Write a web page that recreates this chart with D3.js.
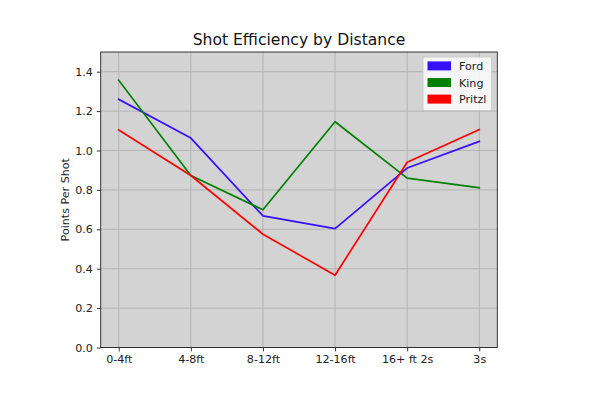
<!DOCTYPE html>
<html>
<head>
<meta charset="utf-8">
<script src="https://cdn.jsdelivr.net/npm/d3@7"></script>
<style>
	body { margin: 0; background: #fff; }
	svg { font-family: "DejaVu Sans", sans-serif; }
</style>
</head>
<body>
<svg id="chart" width="602" height="396"></svg>
<script>
const distances = ['0-4ft', '4-8ft', '8-12ft', '12-16ft', '16+ ft 2s', '3s'];
const ford = [1.26, 1.063, 0.668, 0.603, 0.911, 1.046];
const king = [1.357, 0.873, 0.699, 1.146, 0.86, 0.811];
const pritzl = [1.104, 0.873, 0.575, 0.367, 0.94, 1.106];
const yTicks = [0, 0.2, 0.4, 0.6, 0.8, 1.0, 1.2, 1.4];

const series = [
	{ name: 'Ford', color: '#3510ff', values: ford },
	{ name: 'King', color: '#008000', values: king },
	{ name: 'Pritzl', color: '#ff0000', values: pritzl },
];

const plot = { left: 100.7, right: 497.3, top: 52, bottom: 347.5 };
const svg = d3.select('#chart');

const x = d3.scaleLinear().domain([-0.25, distances.length - 0.75]).range([plot.left, plot.right]);
const y = d3.scaleLinear().domain([0, 1.5]).range([plot.bottom, plot.top]);

svg.append('rect')
	.attr('x', plot.left).attr('y', plot.top)
	.attr('width', plot.right - plot.left).attr('height', plot.bottom - plot.top)
	.attr('fill', '#d3d3d3');

// grid
const grid = svg.append('g').attr('stroke', '#b0b0b0').attr('stroke-width', 0.9);
grid.selectAll('.gx').data(distances).enter().append('line')
	.attr('x1', (d, i) => x(i)).attr('x2', (d, i) => x(i))
	.attr('y1', plot.top).attr('y2', plot.bottom);
grid.selectAll('.gy').data(yTicks).enter().append('line')
	.attr('x1', plot.left).attr('x2', plot.right)
	.attr('y1', d => y(d)).attr('y2', d => y(d));

// lines
const line = d3.line().x((d, i) => x(i)).y(d => y(d));
svg.selectAll('.series').data(series).enter().append('path')
	.attr('fill', 'none')
	.attr('stroke', d => d.color)
	.attr('stroke-width', 1.7)
	.attr('stroke-linejoin', 'round')
	.attr('stroke-linecap', 'square')
	.attr('d', d => line(d.values));

// axes
const xAxis = d3.axisBottom(x)
	.tickValues(d3.range(distances.length))
	.tickFormat(i => distances[i])
	.tickSize(3.9).tickPadding(3.9);
const yAxis = d3.axisLeft(y)
	.tickValues(yTicks)
	.tickFormat(d3.format('.1f'))
	.tickSize(3.9).tickPadding(3.9);

svg.append('g').attr('transform', `translate(0,${plot.bottom})`).call(xAxis)
	.call(g => g.select('.domain').remove());
svg.append('g').attr('transform', `translate(${plot.left},0)`).call(yAxis)
	.call(g => g.select('.domain').remove());
svg.selectAll('.tick text').attr('font-size', 11.1).attr('fill', '#222').attr('font-family', '"DejaVu Sans", sans-serif');
svg.selectAll('.tick line').attr('stroke', '#222').attr('stroke-width', 0.9);

svg.append('rect')
	.attr('x', plot.left).attr('y', plot.top)
	.attr('width', plot.right - plot.left).attr('height', plot.bottom - plot.top)
	.attr('fill', 'none').attr('stroke', '#222').attr('stroke-width', 0.9);

// labels
svg.append('text')
	.attr('x', (plot.left + plot.right) / 2).attr('y', 45)
	.attr('text-anchor', 'middle').attr('font-size', 15.6).attr('fill', '#111')
	.text('Shot Efficiency by Distance');

svg.append('text')
	.attr('transform', `translate(69,${(plot.top + plot.bottom) / 2}) rotate(-90)`)
	.attr('text-anchor', 'middle').attr('font-size', 11.1).attr('fill', '#222')
	.text('Points Per Shot');

// legend
const legend = svg.append('g');
legend.append('rect')
	.attr('x', 423).attr('y', 57)
	.attr('width', 68.5).attr('height', 53.5).attr('rx', 2)
	.attr('fill', 'rgba(255,255,255,0.8)').attr('stroke', '#cccccc').attr('stroke-width', 0.9);
const item = legend.selectAll('.item').data(series).enter().append('g')
	.attr('transform', (d, i) => `translate(427.5,${66 + i * 16.6})`);
item.append('rect')
	.attr('x', 0).attr('y', -4.6).attr('width', 23.5).attr('height', 9)
	.attr('fill', d => d.color);
item.append('text')
	.attr('x', 31.5).attr('y', 4).attr('font-size', 11.1).attr('fill', '#222')
	.text(d => d.name);
</script>
</body>
</html>
